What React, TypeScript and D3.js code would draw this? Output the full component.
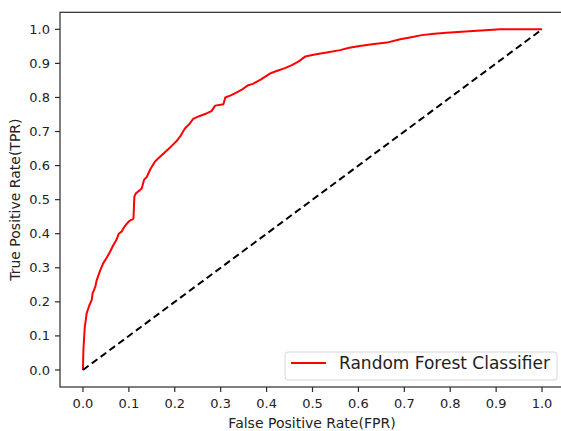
import React from "react";
import * as d3 from "d3";

const WIDTH = 561;
const HEIGHT = 431;

// ROC curve
const fpr = [
  0, 0.001, 0.004, 0.006, 0.008, 0.014, 0.019, 0.021, 0.027, 0.03, 0.037, 0.044,
  0.052, 0.059, 0.066, 0.073, 0.078, 0.084, 0.09, 0.099, 0.104, 0.108, 0.11,
  0.111, 0.112, 0.115, 0.124, 0.128, 0.133, 0.139, 0.147, 0.157, 0.165, 0.175,
  0.185, 0.195, 0.204, 0.213, 0.222, 0.232, 0.24, 0.253, 0.269, 0.28, 0.288,
  0.306, 0.31, 0.322, 0.335, 0.345, 0.36, 0.37, 0.378, 0.388, 0.398, 0.41,
  0.425, 0.44, 0.455, 0.47, 0.484, 0.505, 0.531, 0.56, 0.58, 0.603, 0.63, 0.662,
  0.691, 0.715, 0.738, 0.765, 0.792, 0.825, 0.858, 0.885, 0.908, 1.0,
];
const tpr = [
  0, 0.06, 0.127, 0.145, 0.166, 0.19, 0.205, 0.225, 0.245, 0.264, 0.29, 0.313,
  0.33, 0.347, 0.366, 0.382, 0.4, 0.406, 0.42, 0.435, 0.44, 0.442, 0.445, 0.475,
  0.509, 0.518, 0.528, 0.533, 0.558, 0.567, 0.59, 0.612, 0.622, 0.635, 0.647,
  0.66, 0.672, 0.688, 0.709, 0.722, 0.737, 0.745, 0.753, 0.76, 0.776, 0.78, 0.8,
  0.806, 0.815, 0.822, 0.836, 0.84, 0.846, 0.853, 0.862, 0.872, 0.879, 0.886,
  0.895, 0.906, 0.92, 0.926, 0.932, 0.939, 0.946, 0.951, 0.956, 0.961, 0.971,
  0.977, 0.983, 0.987, 0.99, 0.993, 0.996, 0.998, 1.0, 1.0,
];
const chance = [0, 1];
const ticks = [0, 0.1, 0.2, 0.3, 0.4, 0.5, 0.6, 0.7, 0.8, 0.9, 1.0];
const seriesName = "Random Forest Classifier";

const FONT = "DejaVu Sans, sans-serif";
const margin = { left: 60, top: 12.3, right: -4, bottom: 44 };

export default function App() {
  const x = d3
    .scaleLinear()
    .domain([-0.05, 1.05])
    .range([margin.left, WIDTH - margin.right]);
  const y = d3
    .scaleLinear()
    .domain([-0.05, 1.05])
    .range([HEIGHT - margin.bottom, margin.top]);

  const line = d3
    .line<[number, number]>()
    .x((d) => x(d[0]))
    .y((d) => y(d[1]));

  const roc = fpr.map((f, i) => [f, tpr[i]] as [number, number]);
  const diag = chance.map((v) => [v, v] as [number, number]);

  const [x0, x1] = x.range();
  const [yb, yt] = y.range();

  return (
    <svg
      width={WIDTH}
      height={HEIGHT}
      style={{ position: "absolute", left: 0, top: 0, background: "#fff" }}
      fontFamily={FONT}
    >
      <path d={line(roc) || ""} fill="none" stroke="#ff0000" strokeWidth={2} strokeLinejoin="round" />
      <path d={line(diag) || ""} fill="none" stroke="#000" strokeWidth={2} strokeDasharray="7,4" />

      {/* spines */}
      <rect x={x0} y={yt} width={x1 - x0} height={yb - yt} fill="none" stroke="#2a2a2a" strokeWidth={1.2} />

      {ticks.map((t) => (
        <g key={`x${t}`} transform={`translate(${x(t)},${yb})`}>
          <line y2={5} stroke="#2a2a2a" strokeWidth={1.2} />
          <text y={21} textAnchor="middle" fontSize={13} fill="#222">
            {t.toFixed(1)}
          </text>
        </g>
      ))}
      {ticks.map((t) => (
        <g key={`y${t}`} transform={`translate(${x0},${y(t)})`}>
          <line x2={-5} stroke="#2a2a2a" strokeWidth={1.2} />
          <text x={-10} dy="0.35em" textAnchor="end" fontSize={13} fill="#222">
            {t.toFixed(1)}
          </text>
        </g>
      ))}

      <text x={312} y={428} textAnchor="middle" fontSize={14} fill="#222">
        False Positive Rate(FPR)
      </text>
      <text
        transform={`translate(20,${(yt + yb) / 2}) rotate(-90)`}
        textAnchor="middle"
        fontSize={14}
        fill="#222"
      >
        True Positive Rate(TPR)
      </text>

      {/* legend */}
      <g transform="translate(285,352)">
        <rect width={272} height={28} rx={3} fill="#fff" fillOpacity={0.8} stroke="#d6d6d6" />
        <line x1={6} x2={41} y1={11} y2={11} stroke="#ff0000" strokeWidth={2} />
        <text x={54} y={11} dy="0.35em" fontSize={17} fill="#222">
          {seriesName}
        </text>
      </g>
    </svg>
  );
}
